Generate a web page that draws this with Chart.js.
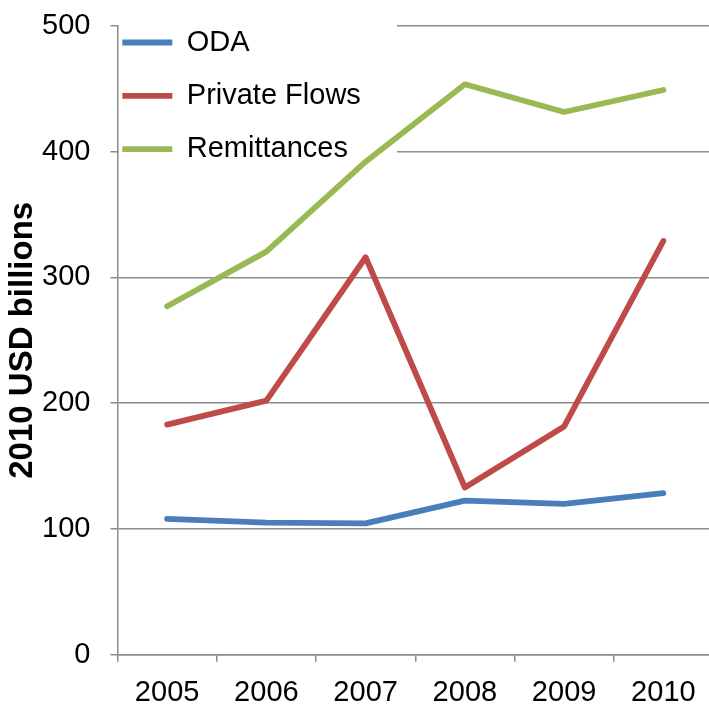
<!DOCTYPE html>
<html>
<head>
<meta charset="utf-8">
<script src="https://cdn.jsdelivr.net/npm/chart.js@4"></script>
<style>
  html, body { margin: 0; padding: 0; overflow: hidden; background: #fff; }
  #wrap { width: 713px; height: 715px; position: relative; }
</style>
</head>
<body>
<div id="wrap"><canvas id="c"></canvas></div>
<script>
const categories = ['2005', '2006', '2007', '2008', '2009', '2010'];
const odaValues = [108, 105, 104.5, 122.5, 120, 128.5];
const privateFlowValues = [183, 202, 316, 133, 181.5, 329];
const remittanceValues = [277, 320.5, 392, 453.5, 431.5, 449];
const yTickValues = [0, 100, 200, 300, 400, 500];
const seriesNames = ['ODA', 'Private Flows', 'Remittances'];

const FONT = '"Liberation Sans", Arial, Helvetica, sans-serif';
const GRID = '#8c8c8c';
const colors = ['#4a7ebb', '#be4b48', '#98b954'];

const legendPlugin = {
  id: 'legendPlacer',
  beforeDraw(chart) {
    const lg = chart.legend;
    if (lg) { lg.left = 98; lg.top = 3.7; }
  },
  beforeDatasetsDraw(chart) {
    const ctx = chart.ctx;
    ctx.save();
    ctx.fillStyle = '#ffffff';
    ctx.fillRect(119, 18, 278, 148);
    ctx.restore();
    if (chart.legend) chart.legend.draw();
  }
};

function mk(label, data, color) {
  return {
    label, data,
    borderColor: color, backgroundColor: color,
    borderWidth: 5.8, pointRadius: 0, pointHoverRadius: 0,
    tension: 0, borderCapStyle: 'round', borderJoinStyle: 'round',
    pointStyle: 'line', fill: false
  };
}

new Chart(document.getElementById('c'), {
  type: 'line',
  data: {
    labels: categories,
    datasets: [
      mk(seriesNames[0], odaValues, colors[0]),
      mk(seriesNames[1], privateFlowValues, colors[1]),
      mk(seriesNames[2], remittanceValues, colors[2])
    ]
  },
  options: {
    responsive: true,
    maintainAspectRatio: false,
    animation: false,
    devicePixelRatio: 1,
    layout: { padding: { top: 25.8, left: 0, right: 0, bottom: 0 } },
    plugins: {
      tooltip: { enabled: false },
      legend: {
        position: 'chartArea',
        align: 'start',
        labels: {
          usePointStyle: true,
          pointStyleWidth: 50,
          boxHeight: 5,
          padding: 24.3,
          color: '#000',
          font: { family: FONT, size: 29 }
        }
      }
    },
    scales: {
      x: {
        offset: true,
        grid: { display: true, drawOnChartArea: false, drawTicks: true, tickLength: 7, color: GRID, lineWidth: 1.5, offset: true },
        border: { display: true, color: GRID, width: 1.5 },
        ticks: { color: '#000', font: { family: FONT, size: 29 }, padding: 13.8, maxRotation: 0, autoSkip: false },
        afterFit(scale) { scale.height = 715 - 654.8; }
      },
      y: {
        min: 0, max: 500,
        afterBuildTicks(scale) { scale.ticks = yTickValues.map(v => ({ value: v })); },
        grid: { color: GRID, lineWidth: 1.5, tickLength: 7, drawTicks: true },
        border: { display: true, color: GRID, width: 1.5 },
        ticks: { color: '#000', font: { family: FONT, size: 29 }, padding: 20 },
        title: {
          display: true, text: '2010 USD billions', color: '#000',
          font: { family: FONT, size: 33, weight: 'bold' },
          padding: { top: 3.2, bottom: 0 }
        },
        afterFit(scale) { scale.width = 117.5; scale.paddingTop = 0; scale.paddingBottom = 0; }
      }
    }
  },
  plugins: [legendPlugin]
});
</script>
</body>
</html>
